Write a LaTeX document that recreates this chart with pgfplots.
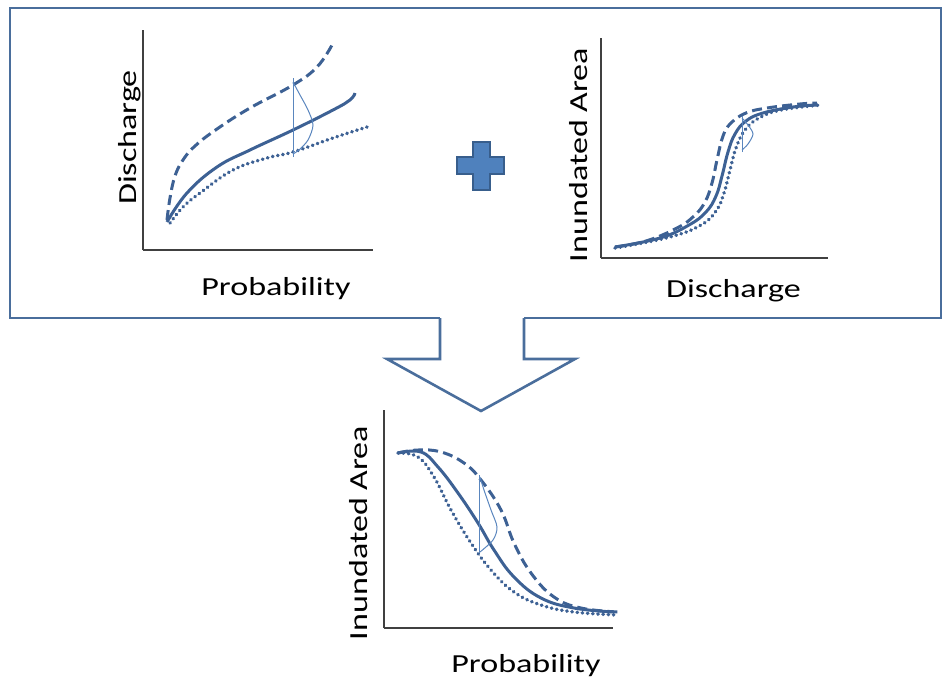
\documentclass[border=0pt]{standalone}
\usepackage{fontspec}
\setmainfont{Carlito}
\usepackage{pgfplots}
\pgfplotsset{compat=1.18}

\definecolor{curve}{HTML}{3D6194}
\definecolor{pdfblue}{HTML}{5A86BE}
\definecolor{frame}{HTML}{4A6E9C}
\definecolor{plusfill}{HTML}{4F81BD}
\definecolor{plusedge}{HTML}{385E8C}

% data: x = pixels right of the y axis, y = pixels above the x axis
\pgfplotsset{
  sketch/.style={
    x=0.5pt, y=0.5pt, anchor=south west,
    axis lines=left, axis line style={-, draw=black!75, line width=0.6pt},
    xtick=\empty, ytick=\empty, xmin=0, ymin=0, clip=false,
  },
  mid/.style={curve, line width=1.5pt, smooth, tension=0.7},
  hi/.style={curve, line width=1.5pt, smooth, tension=0.7, dash pattern=on 5pt off 2.6pt},
  lo/.style={curve, line width=1.8pt, smooth, tension=0.7, line cap=round, dash pattern=on 0.2pt off 2.4pt},
  pdf/.style={pdfblue, line width=0.5pt, smooth},
}
\newcommand{\lab}[1]{\fontsize{13pt}{15pt}\selectfont #1}

\begin{document}
\begin{tikzpicture}[x=0.5pt, y=-0.5pt]
\path[use as bounding box] (0,0) rectangle (943,686);

% frame with the arrow
\draw[frame, line width=1.3pt, line join=miter]
  (440,318) -- (10,318) -- (10,8) -- (941,8) -- (941,318) -- (524,318);
\draw[frame, line width=1.3pt, line join=miter, fill=white]
  (440,318) -- (440,359) -- (387,359) -- (481,411) -- (575,359) -- (524,359) -- (524,318);

% plus sign
\draw[plusedge, fill=plusfill, line width=0.8pt]
  (473,142) -- (490,142) -- (490,157) -- (504,157) -- (504,174) -- (490,174)
  -- (490,190) -- (473,190) -- (473,174) -- (457,174) -- (457,157) -- (473,157) -- cycle;

% Discharge vs probability
\begin{axis}[sketch, at={(71.5pt,-125pt)}, xmax=230, ymax=220]
\addplot[hi] coordinates {(24,30) (27,52) (32,74) (40,90) (52,104) (74,121) (107,142) (150,165) (174,183) (189,205)};
\addplot[mid] coordinates {(24,28) (44,57) (74,83) (107,100) (150,120) (190,140) (207,150) (212,157)};
\addplot[lo] coordinates {(27,27) (40,43) (57,57) (90,80) (124,92) (150,98) (190,112) (224,123)};
\addplot[pdf, sharp plot] coordinates {(150,93) (150,172)};
\addplot[pdf] coordinates {(150,168) (157,155) (165,140) (170,125) (165,110) (156,100) (150,96)};
\end{axis}

% Inundated area vs discharge
\begin{axis}[sketch, at={(300.5pt,-129pt)}, xmax=227, ymax=220]
\addplot[hi] coordinates {(14,11) (45,17) (76,30) (93,42) (104,56) (111,75) (116,98) (122,122) (130,135) (145,145) (166,150) (199,154) (216,155)};
\addplot[mid] coordinates {(14,11) (59,20) (88,33) (105,46) (115,62) (121,82) (127,106) (134,124) (145,137) (162,145) (192,151) (216,153)};
\addplot[lo] coordinates {(14,10) (69,21) (100,33) (115,47) (123,65) (129,88) (135,110) (144,128) (158,140) (180,148) (219,153)};
\addplot[pdf, sharp plot] coordinates {(141,106) (141,142)};
\addplot[pdf] coordinates {(141,140) (147,133) (152,124) (147,114) (141,108)};
\end{axis}

% Inundated area vs probability
\begin{axis}[sketch, at={(192pt,-314pt)}, xmax=229, ymax=218]
\addplot[hi] coordinates {(14,175) (34,178) (57,176) (80,165) (97,148) (117,118) (130,85) (147,55) (170,31) (197,20) (234,16)};
\addplot[mid] coordinates {(14,175) (37,176) (54,161) (74,135) (94,105) (110,78) (130,51) (157,30) (190,20) (230,16)};
\addplot[lo] coordinates {(14,175) (34,171) (50,151) (67,118) (87,85) (107,58) (130,36) (157,23) (190,16) (234,13)};
\addplot[pdf, sharp plot] coordinates {(95,75) (95,153)};
\addplot[pdf] coordinates {(96,151) (100,138) (107,118) (113,101) (109,88) (96,76)};
\end{axis}

% labels
\node[anchor=base, inner sep=0, xscale=1.31] at (276,295) {\lab{Probability}};
\node[anchor=base, inner sep=0, xscale=1.31] at (733.5,297) {\lab{Discharge}};
\node[anchor=base, inner sep=0, xscale=1.31] at (526,672.5) {\lab{Probability}};
\node[anchor=base, inner sep=0, rotate=90, xscale=1.31] at (136,137.5) {\lab{Discharge}};
\node[anchor=base, inner sep=0, rotate=90, xscale=1.31] at (587,155) {\lab{Inundated Area}};
\node[anchor=base, inner sep=0, rotate=90, xscale=1.31] at (367,533) {\lab{Inundated Area}};
\end{tikzpicture}
\end{document}
